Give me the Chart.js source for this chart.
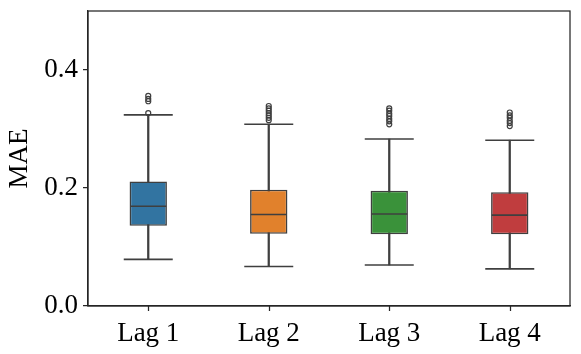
<!DOCTYPE html>
<html lang="en">
<head>
    <meta charset="UTF-8" />
    <title>MAE by Lag</title>
    <script src="https://cdn.jsdelivr.net/npm/chart.js"></script>
    <style>
        html, body { margin: 0; padding: 0; background: #fff; }
        #wrap { width: 581px; height: 354px; position: relative; }
    </style>
</head>
<body>
    <div id="wrap"><canvas id="maeChart"></canvas></div>

    <script>
        // box plot summary per lag
        var categories = ['Lag 1', 'Lag 2', 'Lag 3', 'Lag 4'];
        var whiskerLow = [0.079, 0.067, 0.0695, 0.063];
        var q1 = [0.136, 0.1225, 0.1215, 0.1215];
        var median = [0.169, 0.155, 0.156, 0.154];
        var q3 = [0.211, 0.197, 0.1955, 0.193];
        var whiskerHigh = [0.324, 0.308, 0.283, 0.281];
        var outliers = [
            [0.327, 0.347, 0.351, 0.356],
            [0.315, 0.319, 0.323, 0.327, 0.331, 0.335, 0.339],
            [0.308, 0.313, 0.317, 0.322, 0.326, 0.331, 0.335],
            [0.305, 0.31, 0.314, 0.319, 0.323, 0.328]
        ];
        var yTicks = [0, 0.2, 0.4];
    </script>

    <script>
        var boxColors = ['#3274a1', '#e1812c', '#3a923a', '#c03d3e'];
        var edge = '#3f3f3f';
        var axisColor = '#262626';
        var fontFamily = "'Liberation Serif', 'DejaVu Serif', serif";

        var whiskerData = [];
        var boxData = [];
        var lowCaps = [];
        var highCaps = [];
        var medians = [];
        var fliers = [];
        for (var i = 0; i < categories.length; i++) {
            whiskerData.push([whiskerLow[i], whiskerHigh[i]]);
            boxData.push([q1[i], q3[i]]);
            lowCaps.push({ x: categories[i], y: whiskerLow[i] });
            highCaps.push({ x: categories[i], y: whiskerHigh[i] });
            medians.push({ x: categories[i], y: median[i] });
            for (var j = 0; j < outliers[i].length; j++) {
                fliers.push({ x: categories[i], y: outliers[i][j] });
            }
        }

        // full frame round the plot area, plus x tick marks under each category
        var framePlugin = {
            id: 'frame',
            afterDraw: function (chart) {
                var a = chart.chartArea;
                var ctx = chart.ctx;
                var xs = chart.scales.x;
                ctx.save();
                ctx.strokeStyle = axisColor;
                ctx.lineWidth = 1.25;
                ctx.strokeRect(a.left, a.top, a.right - a.left, a.bottom - a.top);
                for (var k = 0; k < categories.length; k++) {
                    var px = Math.round(xs.getPixelForValue(k)) + 0.5;
                    ctx.beginPath();
                    ctx.moveTo(px, a.bottom);
                    ctx.lineTo(px, a.bottom + 5);
                    ctx.stroke();
                }
                ctx.restore();
            }
        };

        function marks(data, radius, order) {
            return {
                type: 'line',
                data: data,
                showLine: false,
                pointStyle: 'line',
                pointRadius: radius,
                borderColor: edge,
                borderWidth: 1.6,
                order: order
            };
        }

        // pin the axis boxes so the plot area sits where the reference has it
        function pin(size, horizontal) {
            return function (s) {
                if (horizontal) s.height = size; else s.width = size;
                s.paddingTop = 0;
                s.paddingBottom = 0;
                s.paddingLeft = 0;
                s.paddingRight = 0;
            };
        }

        var ctx = document.getElementById('maeChart').getContext('2d');
        var chart = new Chart(ctx, {
            type: 'bar',
            data: {
                labels: categories,
                datasets: [
                    {
                        data: whiskerData,
                        backgroundColor: edge,
                        barThickness: 1.6,
                        grouped: false,
                        order: 5
                    },
                    {
                        data: boxData,
                        backgroundColor: boxColors,
                        borderColor: edge,
                        borderWidth: 1.6,
                        borderSkipped: false,
                        categoryPercentage: 1,
                        barPercentage: 0.31,
                        grouped: false,
                        order: 4
                    },
                    marks(lowCaps, 24.5, 1),
                    marks(highCaps, 24.5, 1),
                    marks(medians, 18, 1),
                    {
                        type: 'line',
                        data: fliers,
                        showLine: false,
                        pointStyle: 'circle',
                        pointRadius: 2.5,
                        backgroundColor: 'rgba(255,255,255,0)',
                        borderColor: edge,
                        borderWidth: 1.2,
                        order: 0
                    }
                ]
            },
            options: {
                responsive: true,
                maintainAspectRatio: false,
                animation: false,
                layout: { autoPadding: false, padding: { top: 11, right: 11, left: 0, bottom: 0 } },
                plugins: {
                    legend: { display: false },
                    tooltip: { enabled: false }
                },
                scales: {
                    x: {
                        type: 'category',
                        grid: { display: false },
                        border: { color: axisColor, width: 1.25 },
                        ticks: { color: '#000', padding: 4, font: { family: fontFamily, size: 27 } },
                        afterFit: pin(48, true)
                    },
                    y: {
                        min: 0,
                        max: 0.5,
                        grid: { drawOnChartArea: false, drawTicks: true, tickLength: 5, color: axisColor, lineWidth: 1.25 },
                        border: { color: axisColor, width: 1.25 },
                        ticks: {
                            color: '#000',
                            padding: 5,
                            font: { family: fontFamily, size: 27 },
                            callback: function (v) { return v.toFixed(1); }
                        },
                        afterBuildTicks: function (s) {
                            s.ticks = yTicks.map(function (v) { return { value: v }; });
                        },
                        title: {
                            display: true,
                            text: 'MAE',
                            color: '#000',
                            font: { family: fontFamily, size: 27 }
                        },
                        afterFit: pin(88, false)
                    }
                }
            },
            plugins: [framePlugin]
        });
    </script>
</body>
</html>
